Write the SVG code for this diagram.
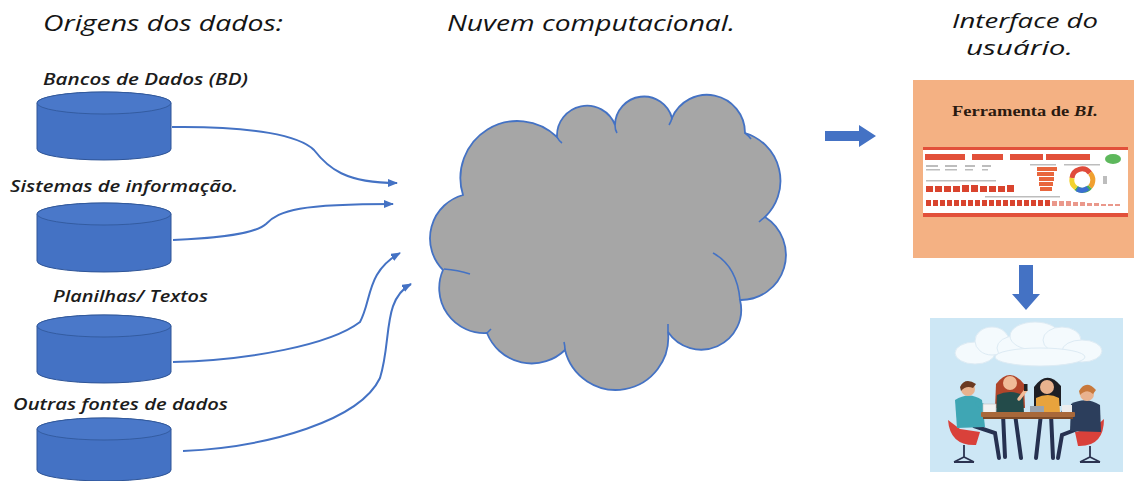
<svg xmlns="http://www.w3.org/2000/svg" width="1135" height="481" viewBox="0 0 1135 481">
  <defs>
    <style>
      .head { font-family: "Open Sans", "Liberation Sans", sans-serif; font-style: italic; font-weight: 500; font-size: 22px; fill: #141414; }
      .head2 { font-family: "Open Sans", "Liberation Sans", sans-serif; font-style: italic; font-weight: 500; font-size: 20px; fill: #141414; }
      .lbl { font-family: "Open Sans", "Liberation Sans", sans-serif; font-style: italic; font-weight: 600; font-size: 15.5px; fill: #1c1c1c; }
      .db { fill: #4472C4; stroke: #2F5597; stroke-width: 1; }
      .dbtop { fill: #4A78C9; stroke: #2F5597; stroke-width: 0.8; }
      .conn { fill: none; stroke: #4472C4; stroke-width: 2; }
      .notch { fill: none; stroke: #4472C4; stroke-width: 1.6; }
      .blk { fill: #4472C4; }
      .tab { fill: #E2503A; }
      .ink { fill: #BDBDBD; }
      .sq { fill: #D9442E; }
      .cl { fill: #F4FAFD; stroke: #DDEBF4; stroke-width: 1; }
    </style>
    <marker id="ah" viewBox="0 0 10 8" refX="9" refY="4" markerWidth="10" markerHeight="8" markerUnits="userSpaceOnUse" orient="auto">
      <path d="M0,0 L10,4 L0,8 z" fill="#4472C4"/>
    </marker>
  </defs>

  <rect width="1135" height="481" fill="#ffffff"/>

  <!-- column headings -->
  <g id="headings">
    <text class="head" x="43" y="31" textLength="240" lengthAdjust="spacingAndGlyphs">Origens dos dados:</text>
    <text class="head" x="447" y="31" textLength="288" lengthAdjust="spacingAndGlyphs">Nuvem computacional.</text>
    <text class="head2" x="952" y="28" textLength="146" lengthAdjust="spacingAndGlyphs">Interface do</text>
    <text class="head2" x="966" y="55" textLength="107" lengthAdjust="spacingAndGlyphs">usuário.</text>
  </g>

  <!-- data sources -->
  <g id="src-bd">
    <text class="lbl" x="43" y="85" textLength="205" lengthAdjust="spacingAndGlyphs">Bancos de Dados (BD)</text>
    <path class="db" d="M37,103 A67,11 0 0 1 171,103 V149 A67,11 0 0 1 37,149 Z"/>
    <ellipse class="dbtop" cx="104" cy="103" rx="67" ry="11"/>
  </g>
  <g id="src-si">
    <text class="lbl" x="10" y="192" textLength="228" lengthAdjust="spacingAndGlyphs">Sistemas de informação.</text>
    <path class="db" d="M37,214 A67,11 0 0 1 171,214 V261 A67,11 0 0 1 37,261 Z"/>
    <ellipse class="dbtop" cx="104" cy="214" rx="67" ry="11"/>
  </g>
  <g id="src-planilhas">
    <text class="lbl" x="53" y="302" textLength="155" lengthAdjust="spacingAndGlyphs">Planilhas/ Textos</text>
    <path class="db" d="M37,326 A67,11 0 0 1 171,326 V372 A67,11 0 0 1 37,372 Z"/>
    <ellipse class="dbtop" cx="104" cy="326" rx="67" ry="11"/>
  </g>
  <g id="src-outras">
    <text class="lbl" x="13" y="410" textLength="215" lengthAdjust="spacingAndGlyphs">Outras fontes de dados</text>
    <path class="db" d="M37,429 A67,11 0 0 1 171,429 V470 A67,11 0 0 1 37,470 Z"/>
    <ellipse class="dbtop" cx="104" cy="429" rx="67" ry="11"/>
  </g>

  <!-- computing cloud -->
  <g id="cloud">
    <path d="M463,195 A57,57 0 0 1 557,137 A30,30 0 0 1 615,125 A29,29 0 0 1 672,118 A38,38 0 0 1 745,133 A50,50 0 0 1 765,217 A45,45 0 0 1 740,300 A40,40 0 0 1 668,332 A52.4,52.4 0 0 1 565,350 A48,48 0 0 1 487,333 A45,45 0 0 1 443,270 A45,45 0 0 1 463,195 Z" fill="#A6A6A6" stroke="#4472C4" stroke-width="1.8"/>
    <path class="notch" d="M713,253 Q737,266 740,300"/>
    <path class="notch" d="M470,274 Q458,270 444,269"/>
    <path class="notch" d="M557,137 Q559,141 562,143"/>
    <path class="notch" d="M615,125 Q615,130 617,133"/>
    <path class="notch" d="M672,118 Q671,122 669,125"/>
    <path class="notch" d="M745,133 Q749,136 751,139"/>
    <path class="notch" d="M765,217 Q762,219 759,222"/>
    <path class="notch" d="M668,332 Q668,328 668,324"/>
    <path class="notch" d="M565,350 Q565,346 564,342"/>
    <path class="notch" d="M487,333 Q489,331 491,329"/>
  </g>

  <!-- BI tool panel -->
  <g id="bi-tool">
    <rect x="913" y="80" width="221" height="178" fill="#F4B183"/>
    <text x="952" y="116" textLength="146" lengthAdjust="spacingAndGlyphs" font-family="Liberation Serif, serif" font-weight="bold" font-size="14" fill="#2a1a10">Ferramenta de <tspan font-style="italic">BI.</tspan></text>
    <!-- dashboard thumbnail -->
    <rect x="923" y="147" width="205" height="70" fill="#FFFFFF"/>
    <rect class="tab" x="923" y="147" width="205" height="3"/>
    <rect class="tab" x="925" y="154" width="40" height="6"/>
    <rect class="tab" x="972" y="154" width="31" height="6"/>
    <rect class="tab" x="1010" y="154" width="33" height="6"/>
    <rect class="tab" x="1046" y="154" width="44" height="6"/>
    <ellipse cx="1113" cy="159" rx="8" ry="5" fill="#5DB85C"/>
    <rect class="ink" x="926" y="165" width="12" height="2"/>
    <rect class="ink" x="945" y="165" width="12" height="2"/>
    <rect class="ink" x="965" y="165" width="10" height="2"/>
    <rect class="ink" x="982" y="165" width="9" height="2"/>
    <rect class="ink" x="926" y="169" width="14" height="1.5"/>
    <rect class="ink" x="945" y="169" width="12" height="1.5"/>
    <rect class="ink" x="965" y="169" width="8" height="1.5"/>
    <rect class="ink" x="982" y="169" width="6" height="1.5"/>
    <rect class="ink" x="1030" y="164" width="26" height="1.5"/>
    <rect class="ink" x="1064" y="164" width="36" height="1.5"/>
    <rect x="1037" y="167" width="20" height="4" fill="#E8663D"/>
    <rect x="1037" y="172" width="17" height="4" fill="#E8663D"/>
    <rect x="1039" y="177" width="15" height="4" fill="#E8663D"/>
    <rect x="1039" y="182" width="14" height="4" fill="#E8663D"/>
    <rect x="1040" y="187" width="12" height="4" fill="#E8663D"/>
    <g fill="none" stroke-width="5">
      <path d="M1072,178 A10,10 0 0 1 1090,173" stroke="#E04B3A"/>
      <path d="M1090,173 A10,10 0 0 1 1090,187" stroke="#F0A030"/>
      <path d="M1090,187 A10,10 0 0 1 1076,188" stroke="#4CAF50"/>
      <path d="M1076,188 A10,10 0 0 1 1072,178" stroke="#F2D22E"/>
    </g>
    <path d="M1077,189 A10,10 0 0 0 1088,188" fill="none" stroke="#3B6FD0" stroke-width="5"/>
    <rect class="ink" x="1103" y="176" width="4" height="8"/>
    <rect class="ink" x="926" y="180" width="70" height="1.5"/>
    <g class="sq">
      <rect x="926" y="186" width="7" height="6"/><rect x="935" y="186" width="7" height="6"/><rect x="944" y="186" width="7" height="6"/><rect x="953" y="186" width="7" height="6"/><rect x="962" y="185" width="7" height="7"/><rect x="971" y="185" width="7" height="7"/><rect x="980" y="186" width="7" height="6"/><rect x="989" y="186" width="7" height="6"/><rect x="998" y="186" width="7" height="6"/><rect x="1007" y="185" width="7" height="7"/>
    </g>
    <rect class="ink" x="985" y="196" width="75" height="1.5"/>
    <g class="sq">
      <rect x="926" y="200" width="5" height="6"/><rect x="933" y="200" width="5" height="6"/><rect x="940" y="200" width="5" height="6"/><rect x="947" y="200" width="5" height="6"/><rect x="954" y="200" width="5" height="6"/><rect x="961" y="200" width="5" height="6"/><rect x="968" y="200" width="5" height="6"/><rect x="975" y="200" width="5" height="6"/><rect x="982" y="200" width="5" height="6"/><rect x="989" y="200" width="5" height="6"/><rect x="996" y="200" width="5" height="6"/><rect x="1003" y="200" width="5" height="6"/><rect x="1010" y="200" width="5" height="6"/><rect x="1017" y="200" width="5" height="6"/><rect x="1024" y="200" width="5" height="6"/><rect x="1031" y="200" width="5" height="6"/><rect x="1038" y="200" width="5" height="6"/><rect x="1045" y="200" width="5" height="6"/>
    </g>
    <g class="sq" opacity="0.55">
      <rect x="1052" y="201" width="5" height="5"/><rect x="1059" y="201" width="5" height="5"/><rect x="1066" y="201" width="5" height="5"/><rect x="1073" y="202" width="5" height="4"/><rect x="1080" y="202" width="5" height="4"/><rect x="1087" y="203" width="5" height="3"/><rect x="1094" y="203" width="5" height="3"/><rect x="1101" y="204" width="5" height="2"/><rect x="1108" y="204" width="5" height="2"/><rect x="1115" y="204" width="5" height="2"/>
    </g>
    <rect class="tab" x="923" y="213" width="205" height="4"/>
  </g>

  <!-- team meeting illustration -->
  <g id="users">
    <rect x="930" y="318" width="193" height="154" fill="#CDE7F5"/>
    <g class="cl">
      <ellipse cx="975" cy="353" rx="20" ry="11"/>
      <ellipse cx="992" cy="341" rx="17" ry="14"/>
      <ellipse cx="1015" cy="348" rx="18" ry="12"/>
      <ellipse cx="1035" cy="336" rx="25" ry="14"/>
      <ellipse cx="1062" cy="340" rx="19" ry="13"/>
      <ellipse cx="1082" cy="351" rx="20" ry="11"/>
      <ellipse cx="1040" cy="357" rx="45" ry="9"/>
    </g>
    <!-- chairs -->
    <path d="M948,420 Q950,446 976,445 L980,432 L960,429 Z" fill="#D9413A"/>
    <path d="M1104,419 Q1104,447 1078,446 L1075,432 L1094,428 Z" fill="#D9413A"/>
    <g stroke="#2B3350" stroke-width="1.8" fill="none">
      <path d="M964,445 V457 M954,462 L974,462 M964,457 L954,462 M964,457 L974,462"/>
      <path d="M1090,446 V457 M1080,462 L1100,462 M1090,457 L1080,462 M1090,457 L1100,462"/>
    </g>
    <!-- legs under the table -->
    <g stroke="#263150" stroke-width="4" fill="none" stroke-linecap="round">
      <path d="M974,426 L995,433 L999,458"/>
      <path d="M1003,414 L1005,457"/>
      <path d="M1015,414 L1021,458"/>
      <path d="M1041,414 L1036,458"/>
      <path d="M1051,414 L1053,458"/>
      <path d="M1080,428 L1062,435 L1058,458"/>
    </g>
    <!-- man, left -->
    <path d="M955,400 Q969,391 982,400 L985,427 L957,428 Z" fill="#3FA6B4"/>
    <path d="M978,404 L992,410" stroke="#3FA6B4" stroke-width="5" stroke-linecap="round"/>
    <circle cx="968" cy="389" r="7" fill="#E9B28E"/>
    <path d="M960,387 Q965,377 976,384 L973,388 Q966,385 961,391 Z" fill="#6B3A22"/>
    <!-- woman, red hair -->
    <path d="M996,384 Q1010,366 1024,384 L1025,408 L995,408 Z" fill="#B0452A"/>
    <path d="M997,395 Q1010,389 1023,395 L1024,413 L996,413 Z" fill="#234B4A"/>
    <circle cx="1010" cy="383" r="7" fill="#F0BC98"/>
    <path d="M1019,399 L1026,390" stroke="#F0BC98" stroke-width="3.5" stroke-linecap="round"/>
    <rect x="1024" y="384" width="3.5" height="7" fill="#222"/>
    <!-- woman, dark hair -->
    <path d="M1034,387 Q1047,369 1061,386 L1061,406 L1034,406 Z" fill="#1E1E24"/>
    <path d="M1036,398 Q1048,392 1059,398 L1060,413 L1036,413 Z" fill="#E8A33D"/>
    <circle cx="1047" cy="387" r="7" fill="#E9B28E"/>
    <!-- man, right -->
    <path d="M1071,404 Q1086,396 1100,405 L1101,432 L1070,431 Z" fill="#2C3E5C"/>
    <path d="M1074,408 L1064,412" stroke="#2C3E5C" stroke-width="5" stroke-linecap="round"/>
    <circle cx="1087" cy="394" r="7" fill="#E9B28E"/>
    <path d="M1079,391 Q1086,379 1096,390 L1093,394 Q1087,388 1080,395 Z" fill="#C8793C"/>
    <!-- table and laptops -->
    <rect x="983" y="404" width="13" height="9" fill="#F2F2F2" stroke="#BDBDBD" stroke-width="0.6"/>
    <rect x="1030" y="406" width="14" height="7" fill="#9AA3AE"/>
    <rect x="1062" y="405" width="10" height="8" fill="#EDEDED"/>
    <rect x="981" y="412" width="94" height="5" rx="1" fill="#A8683A"/>
    <rect x="983" y="417" width="90" height="2" fill="#7D4A27"/>
  </g>

  <!-- connectors -->
  <g id="connectors">
    <path class="conn" marker-end="url(#ah)" d="M172,127 C255,126 300,136 314,150 C328,168 345,183 397,183"/>
    <path class="conn" marker-end="url(#ah)" d="M173,240 C220,238 255,234 266,224 C280,210 300,204 393,204"/>
    <path class="conn" marker-end="url(#ah)" d="M173,362 C250,360 330,345 360,322 C372,300 366,272 400,253"/>
    <path class="conn" marker-end="url(#ah)" d="M183,451 C270,447 360,420 380,378 C392,340 382,300 411,284"/>
    <path class="blk" d="M825,131 H859 V125 L876,136 L859,147 V141 H825 Z"/>
    <path class="blk" d="M1019,265 H1033 V294 H1040 L1026,310 L1012,294 H1019 Z"/>
  </g>
</svg>
